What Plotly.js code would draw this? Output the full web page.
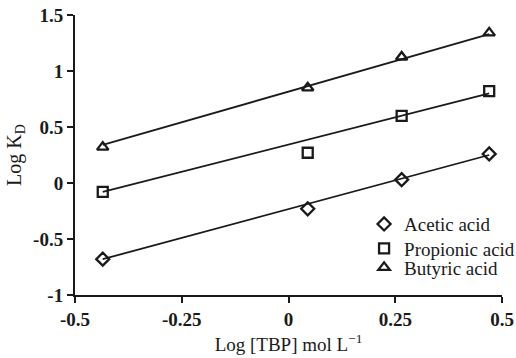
<!DOCTYPE html>
<html>
<head>
<meta charset="utf-8">
<script src="https://cdn.plot.ly/plotly-3.0.1.min.js"></script>
<style>html,body{margin:0;padding:0;background:#fff;}#chart{width:516px;height:358px;}</style>
</head>
<body>
<div id="chart"></div>
<script>
// Data
const logTBP = [-0.435, 0.045, 0.265, 0.47];
const aceticAcid = [-0.68, -0.23, 0.03, 0.26];
const propionicAcid = [-0.08, 0.27, 0.60, 0.82];
const butyricAcid = [0.32, 0.85, 1.125, 1.34];
// Fitted lines (endpoints)
const fitX = [-0.435, 0.47];
const aceticFit = [-0.68, 0.25];
const propionicFit = [-0.08, 0.80];
const butyricFit = [0.34, 1.33];
const seriesNames = ['Acetic acid', 'Propionic acid', 'Butyric acid'];
const xTicks = [-0.5, -0.25, 0, 0.25, 0.5];
const xTickText = ['-0.5', '-0.25', '0', '0.25', '0.5'];
const yTicks = [-1, -0.5, 0, 0.5, 1, 1.5];
const yTickText = ['-1', '-0.5', '0', '0.5', '1', '1.5'];

const SERIF = '"Liberation Serif", "Times New Roman", serif';
const INK = '#1a1a1a';
const symbols = ['diamond-open', 'square-open', 'triangle-up-open'];
const legendIds = ['legend', 'legend2', 'legend3'];
const ys = [aceticAcid, propionicAcid, butyricAcid];
const fits = [aceticFit, propionicFit, butyricFit];

const traces = [];
for (let i = 0; i < 3; i++) {
  traces.push({
    x: fitX, y: fits[i], mode: 'lines', showlegend: false, hoverinfo: 'skip',
    line: {color: INK, width: 1.8}
  });
}
for (let i = 0; i < 3; i++) {
  traces.push({
    x: logTBP, y: ys[i], mode: 'markers', name: seriesNames[i], legend: legendIds[i],
    marker: {symbol: symbols[i], size: 10, color: INK, line: {width: 2.3, color: INK}}
  });
}

function legendAt(yPaper) {
  return {
    x: 0.677, y: yPaper, xanchor: 'left', yanchor: 'top',
    font: {family: SERIF, size: 19, color: INK},
    bgcolor: 'rgba(0,0,0,0)'
  };
}

const layout = {
  width: 516, height: 358,
  margin: {l: 75, r: 14, t: 15, b: 63, autoexpand: false},
  paper_bgcolor: '#fff', plot_bgcolor: '#fff',
  font: {family: SERIF, color: INK, size: 18},
  showlegend: true,
  legend: legendAt(0.321),
  legend2: legendAt(0.234),
  legend3: legendAt(0.166),
  xaxis: {
    range: [-0.5, 0.5], tickvals: xTicks, ticktext: xTickText, automargin: false,
    showgrid: false, zeroline: false, showline: true, linecolor: INK, linewidth: 2,
    ticks: 'outside', ticklen: 6, tickwidth: 2, tickcolor: INK,
    tickfont: {family: SERIF, size: 19, weight: 700, color: INK},
    title: {text: 'Log [TBP] mol L<sup>−1</sup>', font: {family: SERIF, size: 19, color: INK}, standoff: 9}
  },
  yaxis: {
    range: [-1, 1.5], tickvals: yTicks, ticktext: yTickText, automargin: false,
    showgrid: false, zeroline: false, showline: true, linecolor: INK, linewidth: 2,
    ticks: 'outside', ticklen: 6, tickwidth: 2, tickcolor: INK,
    tickfont: {family: SERIF, size: 19, weight: 700, color: INK},
    title: {text: 'Log K<sub>D</sub>', font: {family: SERIF, size: 20, color: INK}, standoff: 6}
  }
};

Plotly.newPlot('chart', traces, layout, {displayModeBar: false, staticPlot: true});
</script>
</body>
</html>
